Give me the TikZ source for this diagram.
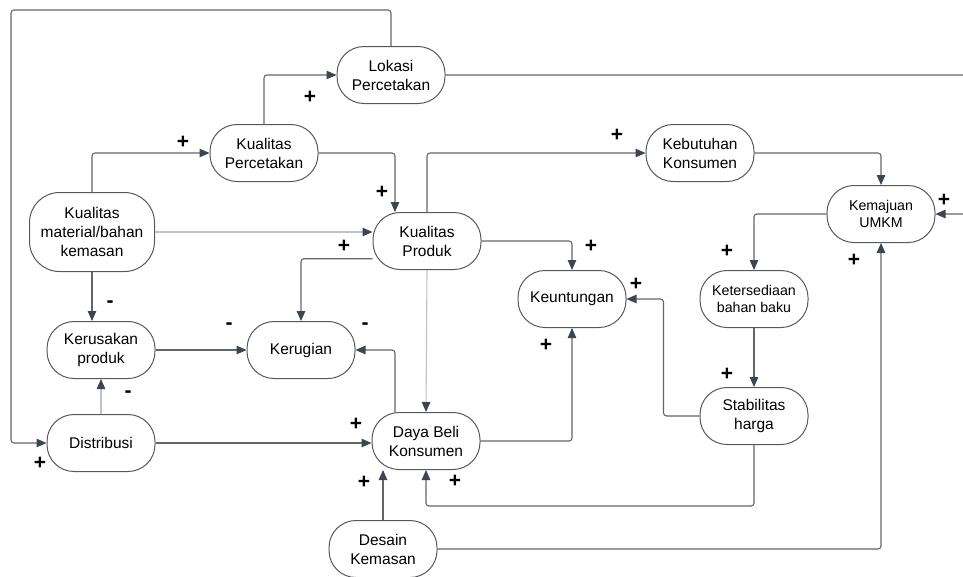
\documentclass[tikz,border=0pt]{standalone}
\usepackage{fontspec}
\setmainfont{Liberation Sans}
\usetikzlibrary{arrows.meta}
\definecolor{linegray}{HTML}{62666C}
\definecolor{lightgray}{HTML}{BFC2C6}
\definecolor{tipgray}{HTML}{3C4552}
\definecolor{boxgray}{HTML}{55585C}

\begin{document}
\begin{tikzpicture}[x=1pt,y=-1pt,
  var/.style={draw=boxgray,line width=1pt,rounded corners=27pt,align=center,
              minimum width=108pt,minimum height=57pt,inner sep=2pt,
              font=\fontsize{15.5}{19}\selectfont},
  smallvar/.style={var,font=\fontsize{14.2}{17}\selectfont},
  arrow/.style={-{Triangle[length=10pt,width=8.5pt,color=tipgray]},
                draw=linegray,line width=1.1pt,rounded corners=3pt},
  faint/.style={draw=lightgray},
  sign/.style={font=\fontsize{21}{21}\selectfont\bfseries,inner sep=0pt}
]
  \useasboundingbox (0,0) rectangle (963,576);
  \clip (0,0) rectangle (963,576);

  % variables
  \node[var] (lokasi) at (391,75) {Lokasi\\Percetakan};
  \node[var] (kpercetakan) at (264,153) {Kualitas\\Percetakan};
  \node[var] (kebutuhan) at (700,153) {Kebutuhan\\Konsumen};
  \node[smallvar] (kemajuan) at (881,214) {Kemajuan\\UMKM};
  \node[var,minimum width=125pt,minimum height=79pt,rounded corners=30pt]
    (material) at (92,232) {Kualitas\\material/bahan\\kemasan};
  \node[var] (kproduk) at (427,241) {Kualitas\\Produk};
  \node[var] (keuntungan) at (572,299) {Keuntungan};
  \node[smallvar] (ketersediaan) at (754,299) {Ketersediaan\\bahan baku};
  \node[var] (kerusakan) at (101,350) {Kerusakan\\produk};
  \node[var] (kerugian) at (301,350) {Kerugian};
  \node[var] (stabilitas) at (754,416) {Stabilitas\\harga};
  \node[var] (distribusi) at (101,443) {Distribusi};
  \node[var] (dayabeli) at (426,441) {Daya Beli\\Konsumen};
  \node[var] (desain) at (383,549) {Desain\\Kemasan};

  % links
  \draw[arrow] (lokasi.north) |- (11,10) |- (distribusi.west);
  \draw[arrow] (lokasi.east) -| (980,214) -- (kemajuan.east);
  \draw[arrow] (kpercetakan.north) |- (lokasi.west);
  \draw[arrow] (material.north) |- (kpercetakan.west);
  \draw[arrow] (kpercetakan.east) -| ([xshift=-32pt]kproduk.north);
  \draw[arrow] (kproduk.north) |- (kebutuhan.west);
  \draw[arrow] (kebutuhan.east) -| (kemajuan.north);
  \draw[arrow,faint] (material.east) -- (material.east -| kproduk.west);
  \draw[arrow] (kproduk.198) -| (kerugian.north);
  \draw[arrow] (material.south) -- (material.south |- kerusakan.north);
  \draw[arrow] (kerusakan.east) -- (kerugian.west);
  \draw[arrow] ([xshift=-31pt]dayabeli.north) |- (kerugian.east);
  \draw[arrow,faint] (distribusi.north) -- (kerusakan.south);
  \draw[arrow] (distribusi.east) -- (distribusi.east -| dayabeli.west);
  \draw[arrow,faint] (kproduk.south) -- (dayabeli.north);
  \draw[arrow] (kproduk.east) -| (keuntungan.north);
  \draw[arrow] (dayabeli.east) -| (keuntungan.south);
  \draw[arrow] (stabilitas.west) -- ++(-36,0) |- (keuntungan.east);
  \draw[arrow] (kemajuan.west) -| (ketersediaan.north);
  \draw[arrow] (ketersediaan.south) -- (stabilitas.north);
  \draw[arrow] (stabilitas.south) -- ++(0,61) -| (dayabeli.south);
  \draw[arrow] (desain.north) -- (desain.north |- dayabeli.south);
  \draw[arrow] (desain.east) -| (kemajuan.south);

  % polarity signs
  \foreach \n/\x/\y/\s in {a/40/463/+, b/310/97/+, c/183/142/+, d/382/192/+,
      e/617/135/+, f/344/246/+, g/110/304/-, h/229/326/-, i/365/326/-,
      j/128/394/-, k/356/424/+, l/591/246/+, m/546/345/+, n/636/284/+,
      o/727/251/+, p/727/374/+, q/455/481/+, r/364/482/+, s/854/260/+,
      t/944/200/+}
    \node[sign] (sign\n) at (\x,\y) {\s};
\end{tikzpicture}
\end{document}
